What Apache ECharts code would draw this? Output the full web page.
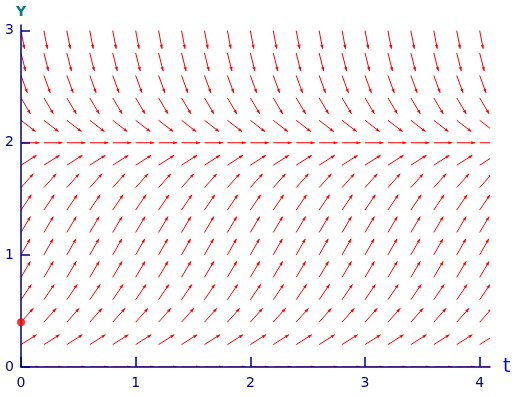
<!DOCTYPE html>
<html>
<head>
<meta charset="utf-8">
<script src="https://cdn.jsdelivr.net/npm/echarts@6/dist/echarts.min.js"></script>
<style>
  html, body { margin: 0; padding: 0; background: #fff; }
  #chart { width: 522px; height: 397px; }
</style>
</head>
<body>
<div id="chart"></div>
<script>
// direction field: one arrow per (t, y), slope read per row
var tValues = [0, 0.2, 0.4, 0.6, 0.8, 1.0, 1.2, 1.4, 1.6, 1.8, 2.0, 2.2, 2.4, 2.6, 2.8, 3.0, 3.2, 3.4, 3.6, 3.8, 4.0];
var yValues = [0, 0.2, 0.4, 0.6, 0.8, 1.0, 1.2, 1.4, 1.6, 1.8, 2.0, 2.2, 2.4, 2.6, 2.8, 3.0];
var slopes  = [0, 0.65, 1.15, 1.51, 1.73, 1.8, 1.73, 1.51, 1.15, 0.65, 0, -0.79, -1.73, -2.81, -4.03, -5.4];
var startPoint = [0, 0.4];
var xTicks = [0, 1, 2, 3, 4];
var yTicks = [0, 1, 2, 3];

var fieldData = [];
yValues.forEach(function (y, i) {
    tValues.forEach(function (t) {
        fieldData.push([t, y, slopes[i]]);
    });
});

function renderArrow(params, api) {
    var t = api.value(0), y = api.value(1), s = api.value(2);
    var p0 = api.coord([t, y]);
    var p1 = api.coord([t + 1, y + s]);
    var dx = p1[0] - p0[0], dy = p1[1] - p0[1];
    var len = Math.sqrt(dx * dx + dy * dy);
    var ux = dx / len, uy = dy / len;
    var L = 18.5;
    var tip = [p0[0] + ux * L, p0[1] + uy * L];
    var base = [tip[0] - ux * 4, tip[1] - uy * 4];
    var nx = -uy, ny = ux;
    return {
        type: 'group',
        children: [
            {
                type: 'line',
                shape: { x1: p0[0], y1: p0[1], x2: tip[0], y2: tip[1] },
                style: { stroke: '#ff0000', lineWidth: 1 }
            },
            {
                type: 'polygon',
                shape: { points: [tip, [base[0] + nx * 1.6, base[1] + ny * 1.6], [base[0] - nx * 1.6, base[1] - ny * 1.6]] },
                style: { fill: '#ff0000' }
            }
        ]
    };
}

var chart = echarts.init(document.getElementById('chart'));
var axisFont = { fontFamily: 'DejaVu Sans', fontSize: 14, color: '#000080' };

chart.setOption({
    animation: false,
    backgroundColor: '#ffffff',
    grid: { left: 21, right: 32, top: 25, bottom: 30, outerBoundsMode: 'none' },
    xAxis: {
        type: 'value',
        min: 0,
        max: 4.09,
        z: 5,
        name: 't',
        nameLocation: 'end',
        nameGap: 13,
        nameTextStyle: { fontFamily: 'DejaVu Sans', fontSize: 19, color: '#0000ff', verticalAlign: 'middle' },
        axisLine: { show: true, lineStyle: { color: '#000080', width: 1.5 } },
        axisTick: { show: true, inside: true, length: 10, customValues: xTicks, lineStyle: { color: '#000080', width: 1.5 } },
        axisLabel: Object.assign({ margin: 9, customValues: xTicks }, axisFont),
        splitLine: { show: false }
    },
    yAxis: {
        type: 'value',
        min: 0,
        max: 3.05,
        z: 5,
        name: 'Y',
        nameLocation: 'end',
        nameGap: 6,
        nameTextStyle: { fontFamily: 'DejaVu Sans', fontSize: 14, fontWeight: 'bold', color: '#008080', align: 'center' },
        axisLine: { show: true, lineStyle: { color: '#000080', width: 1.5 } },
        axisTick: { show: true, inside: true, length: 9, customValues: yTicks, lineStyle: { color: '#000080', width: 1.5 } },
        axisLabel: Object.assign({ margin: 7, customValues: yTicks }, axisFont),
        splitLine: { show: false }
    },
    series: [
        {
            type: 'custom',
            renderItem: renderArrow,
            clip: true,
            z: 2,
            data: fieldData
        },
        {
            type: 'scatter',
            clip: false,
            z: 10,
            symbolSize: 8,
            itemStyle: { color: '#ff0000' },
            data: [startPoint]
        }
    ]
});
</script>
</body>
</html>
